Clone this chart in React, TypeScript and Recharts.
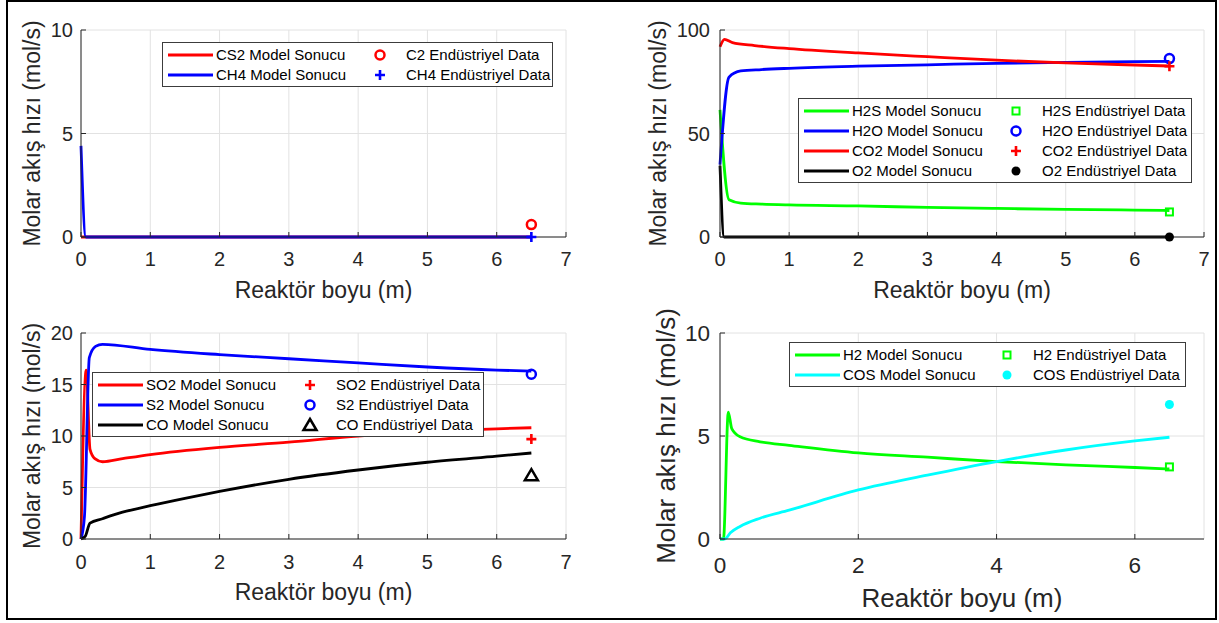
import React from 'react';
import { ComposedChart, Line, Scatter, XAxis, YAxis, CartesianGrid, Legend } from 'recharts';

const FONT = '"Liberation Sans", Arial, Helvetica, sans-serif';
const INK = '#262626';
const GRID = '#e2e2e2';
const LW = 2.8;

const xTicksAll = [0, 1, 2, 3, 4, 5, 6, 7];
const xTicksEven = [0, 2, 4, 6];
const endX = [6.5];

// panel 1 - CS2 / CH4
const cs2X = [0, 0.07, 6.5];
const cs2Y = [0, 0, 0];
const ch4X = [0, 0.07, 6.5];
const ch4Y = [4.4, 0, 0];
const c2Meas = [0.6];
const ch4Meas = [0];

// panel 2 - H2S / H2O / CO2 / O2
const h2sX = [0, 0.13, 0.3, 0.6, 1, 2, 3, 4, 5, 6, 6.5];
const h2sY = [61.4, 18, 16.4, 15.9, 15.5, 15.0, 14.3, 13.8, 13.3, 13.0, 12.8];
const h2oX = [0, 0.13, 0.3, 0.6, 1, 2, 3, 4, 5, 6, 6.5];
const h2oY = [35, 77.2, 80.2, 80.9, 81.5, 82.5, 83.2, 83.9, 84.4, 84.7, 84.8];
const co2X = [0, 0.065, 0.18, 0.5, 1, 2, 3, 4, 5, 6, 6.5];
const co2Y = [91.9, 95.5, 93.9, 92.5, 91.0, 88.9, 87.1, 85.4, 84.1, 83.1, 82.6];
const o2X = [0, 0.06, 6.5];
const o2Y = [34.5, 0, 0];
const h2sMeas = [12.1];
const h2oMeas = [86.2];
const co2Meas = [82.5];
const o2Meas = [0];

// panel 3 - SO2 / S2 / CO
const so2X = [0, 0.075, 0.13, 0.2, 0.31, 0.6, 1, 2, 3, 4, 5, 6, 6.5];
const so2Y = [0, 16.4, 8.7, 7.8, 7.5, 7.8, 8.2, 8.9, 9.4, 10.0, 10.4, 10.7, 10.8];
const s2X = [0, 0.05, 0.12, 0.21, 0.31, 1, 2, 3, 4, 5, 6, 6.5];
const s2Y = [0, 2.2, 17.6, 18.7, 18.9, 18.4, 17.9, 17.5, 17.1, 16.7, 16.4, 16.3];
const coX = [0, 0.06, 0.13, 0.31, 0.6, 1, 1.5, 2, 3, 4, 5, 6, 6.5];
const coY = [0, 0.25, 1.55, 1.97, 2.6, 3.23, 3.95, 4.62, 5.8, 6.7, 7.45, 8.05, 8.35];
const so2Meas = [9.7];
const s2Meas = [16.0];
const coMeas = [6.2];

// panel 4 - H2 / COS
const h2X = [0, 0.05, 0.12, 0.17, 0.29, 0.58, 1, 2, 3, 4, 5, 6, 6.5];
const h2Y = [0, 0, 6.16, 5.36, 4.96, 4.72, 4.55, 4.18, 3.97, 3.76, 3.6, 3.47, 3.4];
const cosX = [0, 0.07, 0.15, 0.29, 0.58, 1, 2, 3, 4, 5, 6, 6.5];
const cosY = [0, 0, 0.3, 0.61, 1.01, 1.4, 2.38, 3.1, 3.76, 4.32, 4.76, 4.94];
const h2Meas = [3.5];
const cosMeas = [6.53];

type Mk = 'o' | '+' | 's' | 'dot' | '^';

const pts = (xs: number[], ys: number[]) => xs.map((x, i) => ({ x, y: ys[i] }));

function Marker({ kind, cx, cy, color }: { kind: Mk; cx: number; cy: number; color: string }) {
  switch (kind) {
    case 'o':
      return <circle cx={cx} cy={cy} r={4.5} fill="none" stroke={color} strokeWidth={2.5} />;
    case '+':
      return <path d={`M${cx - 5},${cy}H${cx + 5}M${cx},${cy - 5}V${cy + 5}`} stroke={color} strokeWidth={2.6} />;
    case 's':
      return <rect x={cx - 3.5} y={cy - 3.5} width={7} height={7} fill="none" stroke={color} strokeWidth={2} />;
    case 'dot':
      return <circle cx={cx} cy={cy} r={4.5} fill={color} />;
    default:
      return (
        <path d={`M${cx},${cy - 6}L${cx + 6.5},${cy + 5}L${cx - 6.5},${cy + 5}Z`} fill="none" stroke={color} strokeWidth={2.5} />
      );
  }
}

type LineSpec = { name: string; color: string; xs: number[]; ys: number[] };
type DotSpec = { name: string; color: string; kind: Mk; xs: number[]; ys: number[] };
type PanelSpec = {
  left: number; top: number; width: number; height: number;
  plot: { l: number; r: number; t: number; b: number };
  yDomain: [number, number]; yTicks: number[]; xTicks: number[];
  tickFont: number; titleFont: number; titleGap: number; yTitleX: number;
  xTickGap: number; yTickGap: number;
  legend: { x: number; y: number; w: number };
  lines: LineSpec[]; dots: DotSpec[];
};

const panels: PanelSpec[] = [
  {
    left: 0, top: 0, width: 610, height: 310,
    plot: { l: 81, r: 566, t: 30, b: 237 },
    yDomain: [0, 10], yTicks: [0, 5, 10], xTicks: xTicksAll,
    tickFont: 20, titleFont: 23, titleGap: 60.5, yTitleX: 40, xTickGap: 15, yTickGap: 8,
    legend: { x: 162, y: 42, w: 391 },
    lines: [
      { name: 'CS2 Model Sonucu', color: '#ff0000', xs: cs2X, ys: cs2Y },
      { name: 'CH4 Model Sonucu', color: '#0000ff', xs: ch4X, ys: ch4Y },
    ],
    dots: [
      { name: 'C2 Endüstriyel Data', color: '#ff0000', kind: 'o', xs: endX, ys: c2Meas },
      { name: 'CH4 Endüstriyel Data', color: '#0000ff', kind: '+', xs: endX, ys: ch4Meas },
    ],
  },
  {
    left: 610, top: 0, width: 609, height: 310,
    plot: { l: 110, r: 594, t: 30, b: 237 },
    yDomain: [0, 100], yTicks: [0, 50, 100], xTicks: xTicksAll,
    tickFont: 20, titleFont: 23, titleGap: 60.5, yTitleX: 55.5, xTickGap: 15, yTickGap: 10,
    legend: { x: 188, y: 98, w: 394 },
    lines: [
      { name: 'H2S Model Sonucu', color: '#00ff00', xs: h2sX, ys: h2sY },
      { name: 'H2O Model Sonucu', color: '#0000ff', xs: h2oX, ys: h2oY },
      { name: 'CO2 Model Sonucu', color: '#ff0000', xs: co2X, ys: co2Y },
      { name: 'O2 Model Sonucu', color: '#000000', xs: o2X, ys: o2Y },
    ],
    dots: [
      { name: 'H2S Endüstriyel Data', color: '#00ff00', kind: 's', xs: endX, ys: h2sMeas },
      { name: 'H2O Endüstriyel Data', color: '#0000ff', kind: 'o', xs: endX, ys: h2oMeas },
      { name: 'CO2 Endüstriyel Data', color: '#ff0000', kind: '+', xs: endX, ys: co2Meas },
      { name: 'O2 Endüstriyel Data', color: '#000000', kind: 'dot', xs: endX, ys: o2Meas },
    ],
  },
  {
    left: 0, top: 310, width: 610, height: 313,
    plot: { l: 81, r: 566, t: 23, b: 229 },
    yDomain: [0, 20], yTicks: [0, 5, 10, 15, 20], xTicks: xTicksAll,
    tickFont: 20, titleFont: 23, titleGap: 60.5, yTitleX: 39.5, xTickGap: 16, yTickGap: 8,
    legend: { x: 92, y: 62, w: 392 },
    lines: [
      { name: 'SO2 Model Sonucu', color: '#ff0000', xs: so2X, ys: so2Y },
      { name: 'S2 Model Sonucu', color: '#0000ff', xs: s2X, ys: s2Y },
      { name: 'CO Model Sonucu', color: '#000000', xs: coX, ys: coY },
    ],
    dots: [
      { name: 'SO2 Endüstriyel Data', color: '#ff0000', kind: '+', xs: endX, ys: so2Meas },
      { name: 'S2 Endüstriyel Data', color: '#0000ff', kind: 'o', xs: endX, ys: s2Meas },
      { name: 'CO Endüstriyel Data', color: '#000000', kind: '^', xs: endX, ys: coMeas },
    ],
  },
  {
    left: 610, top: 310, width: 609, height: 313,
    plot: { l: 110, r: 594, t: 23, b: 229 },
    yDomain: [0, 10], yTicks: [0, 5, 10], xTicks: xTicksEven,
    tickFont: 22.5, titleFont: 26, titleGap: 67.5, yTitleX: 64.5, xTickGap: 18, yTickGap: 10,
    legend: { x: 179, y: 32, w: 397 },
    lines: [
      { name: 'H2 Model Sonucu', color: '#00ff00', xs: h2X, ys: h2Y },
      { name: 'COS Model Sonucu', color: '#00ffff', xs: cosX, ys: cosY },
    ],
    dots: [
      { name: 'H2 Endüstriyel Data', color: '#00ff00', kind: 's', xs: endX, ys: h2Meas },
      { name: 'COS Endüstriyel Data', color: '#00ffff', kind: 'dot', xs: endX, ys: cosMeas },
    ],
  },
];

function LegendBox({ spec }: { spec: PanelSpec }) {
  return (
    <div
      style={{
        width: spec.legend.w, boxSizing: 'border-box', border: '1px solid #3c3c3c', background: '#fff',
        padding: '2px 0 1px', fontFamily: FONT, fontSize: 15, color: '#000',
      }}
    >
      {spec.lines.map((ln, i) => {
        const dot = spec.dots[i];
        return (
          <div key={ln.name} style={{ position: 'relative', height: 20 }}>
            <svg width={55} height={20} style={{ position: 'absolute', left: 0, top: 0 }}>
              <line x1={5} x2={50} y1={10} y2={10} stroke={ln.color} strokeWidth={LW} />
            </svg>
            <span style={{ position: 'absolute', left: 53, top: 0, lineHeight: '20px', whiteSpace: 'nowrap' }}>{ln.name}</span>
            <svg width={20} height={20} style={{ position: 'absolute', left: 207, top: 0 }}>
              <Marker kind={dot.kind} cx={10} cy={10} color={dot.color} />
            </svg>
            <span style={{ position: 'absolute', left: 243, top: 0, lineHeight: '20px', whiteSpace: 'nowrap' }}>{dot.name}</span>
          </div>
        );
      })}
    </div>
  );
}

function Panel({ spec }: { spec: PanelSpec }) {
  const { plot } = spec;
  const XTick = (p: any) => (
    <g>
      <line x1={p.x} x2={p.x} y1={plot.b} y2={plot.b - 5} stroke={INK} />
      <text x={p.x} y={p.y} dy="0.72em" textAnchor="middle" fontSize={spec.tickFont} fontFamily={FONT} fill={INK}>
        {p.payload.value}
      </text>
    </g>
  );
  const YTick = (p: any) => (
    <g>
      <line x1={plot.l} x2={plot.l + 5} y1={p.y} y2={p.y} stroke={INK} />
      <text x={p.x} y={p.y} dy="0.36em" textAnchor="end" fontSize={spec.tickFont} fontFamily={FONT} fill={INK}>
        {p.payload.value}
      </text>
    </g>
  );
  const xTitle = () => (
    <text x={(plot.l + plot.r) / 2} y={plot.b + spec.titleGap} textAnchor="middle" fontSize={spec.titleFont} fontFamily={FONT} fill={INK}>
      Reaktör boyu (m)
    </text>
  );
  const yTitle = () => {
    const cy = (plot.t + plot.b) / 2;
    return (
      <text x={spec.yTitleX} y={cy} transform={`rotate(-90 ${spec.yTitleX} ${cy})`} textAnchor="middle" fontSize={spec.titleFont} fontFamily={FONT} fill={INK}>
        Molar akış hızı (mol/s)
      </text>
    );
  };

  return (
    <div style={{ position: 'absolute', left: spec.left, top: spec.top }}>
      <ComposedChart
        width={spec.width}
        height={spec.height}
        margin={{ top: plot.t, right: spec.width - plot.r, bottom: 0, left: 0 }}
      >
        <CartesianGrid stroke={GRID} />
        <XAxis
          type="number" dataKey="x" domain={[0, 7]} ticks={spec.xTicks}
          height={spec.height - plot.b} tickLine={false} tickSize={0} tickMargin={spec.xTickGap}
          axisLine={{ stroke: INK }} tick={XTick} label={xTitle}
        />
        <XAxis
          xAxisId="top" orientation="top" mirror type="number" domain={[0, 7]} ticks={spec.xTicks}
          height={0} tick={false} tickSize={5} tickLine={{ stroke: INK }} axisLine={{ stroke: INK }}
        />
        <YAxis
          type="number" dataKey="y" domain={spec.yDomain} ticks={spec.yTicks}
          width={plot.l} tickLine={false} tickSize={0} tickMargin={spec.yTickGap}
          axisLine={{ stroke: INK }} tick={YTick} label={yTitle}
        />
        <YAxis
          yAxisId="right" orientation="right" mirror type="number" domain={spec.yDomain} ticks={spec.yTicks}
          width={0} tick={false} tickSize={5} tickLine={{ stroke: INK }} axisLine={{ stroke: INK }}
        />
        {spec.lines.map((ln) => (
          <Line
            key={ln.name} name={ln.name} data={pts(ln.xs, ln.ys)} dataKey="y" type="monotone"
            stroke={ln.color} strokeWidth={LW} dot={false} activeDot={false} isAnimationActive={false}
          />
        ))}
        {spec.dots.map((d) => (
          <Scatter
            key={d.name} name={d.name} data={pts(d.xs, d.ys)} dataKey="y" isAnimationActive={false}
            shape={(p: any) => <Marker kind={d.kind} cx={p.cx} cy={p.cy} color={d.color} />}
          />
        ))}
        <Legend
          layout="horizontal" verticalAlign="middle" align="center"
          wrapperStyle={{ left: spec.legend.x, top: spec.legend.y, width: spec.legend.w }}
          content={() => <LegendBox spec={spec} />}
        />
      </ComposedChart>
    </div>
  );
}

export default function App() {
  return (
    <div style={{ position: 'absolute', left: 0, top: 0, width: 1219, height: 623, background: '#fff', overflow: 'hidden' }}>
      <style>{'.recharts-wrapper, .recharts-surface { overflow: visible !important; }'}</style>
      {panels.map((p, i) => (
        <Panel key={i} spec={p} />
      ))}
      <div
        style={{
          position: 'absolute', left: 6, top: 0, width: 1211, height: 620,
          border: '2px solid #000', boxSizing: 'border-box', pointerEvents: 'none',
        }}
      />
    </div>
  );
}
